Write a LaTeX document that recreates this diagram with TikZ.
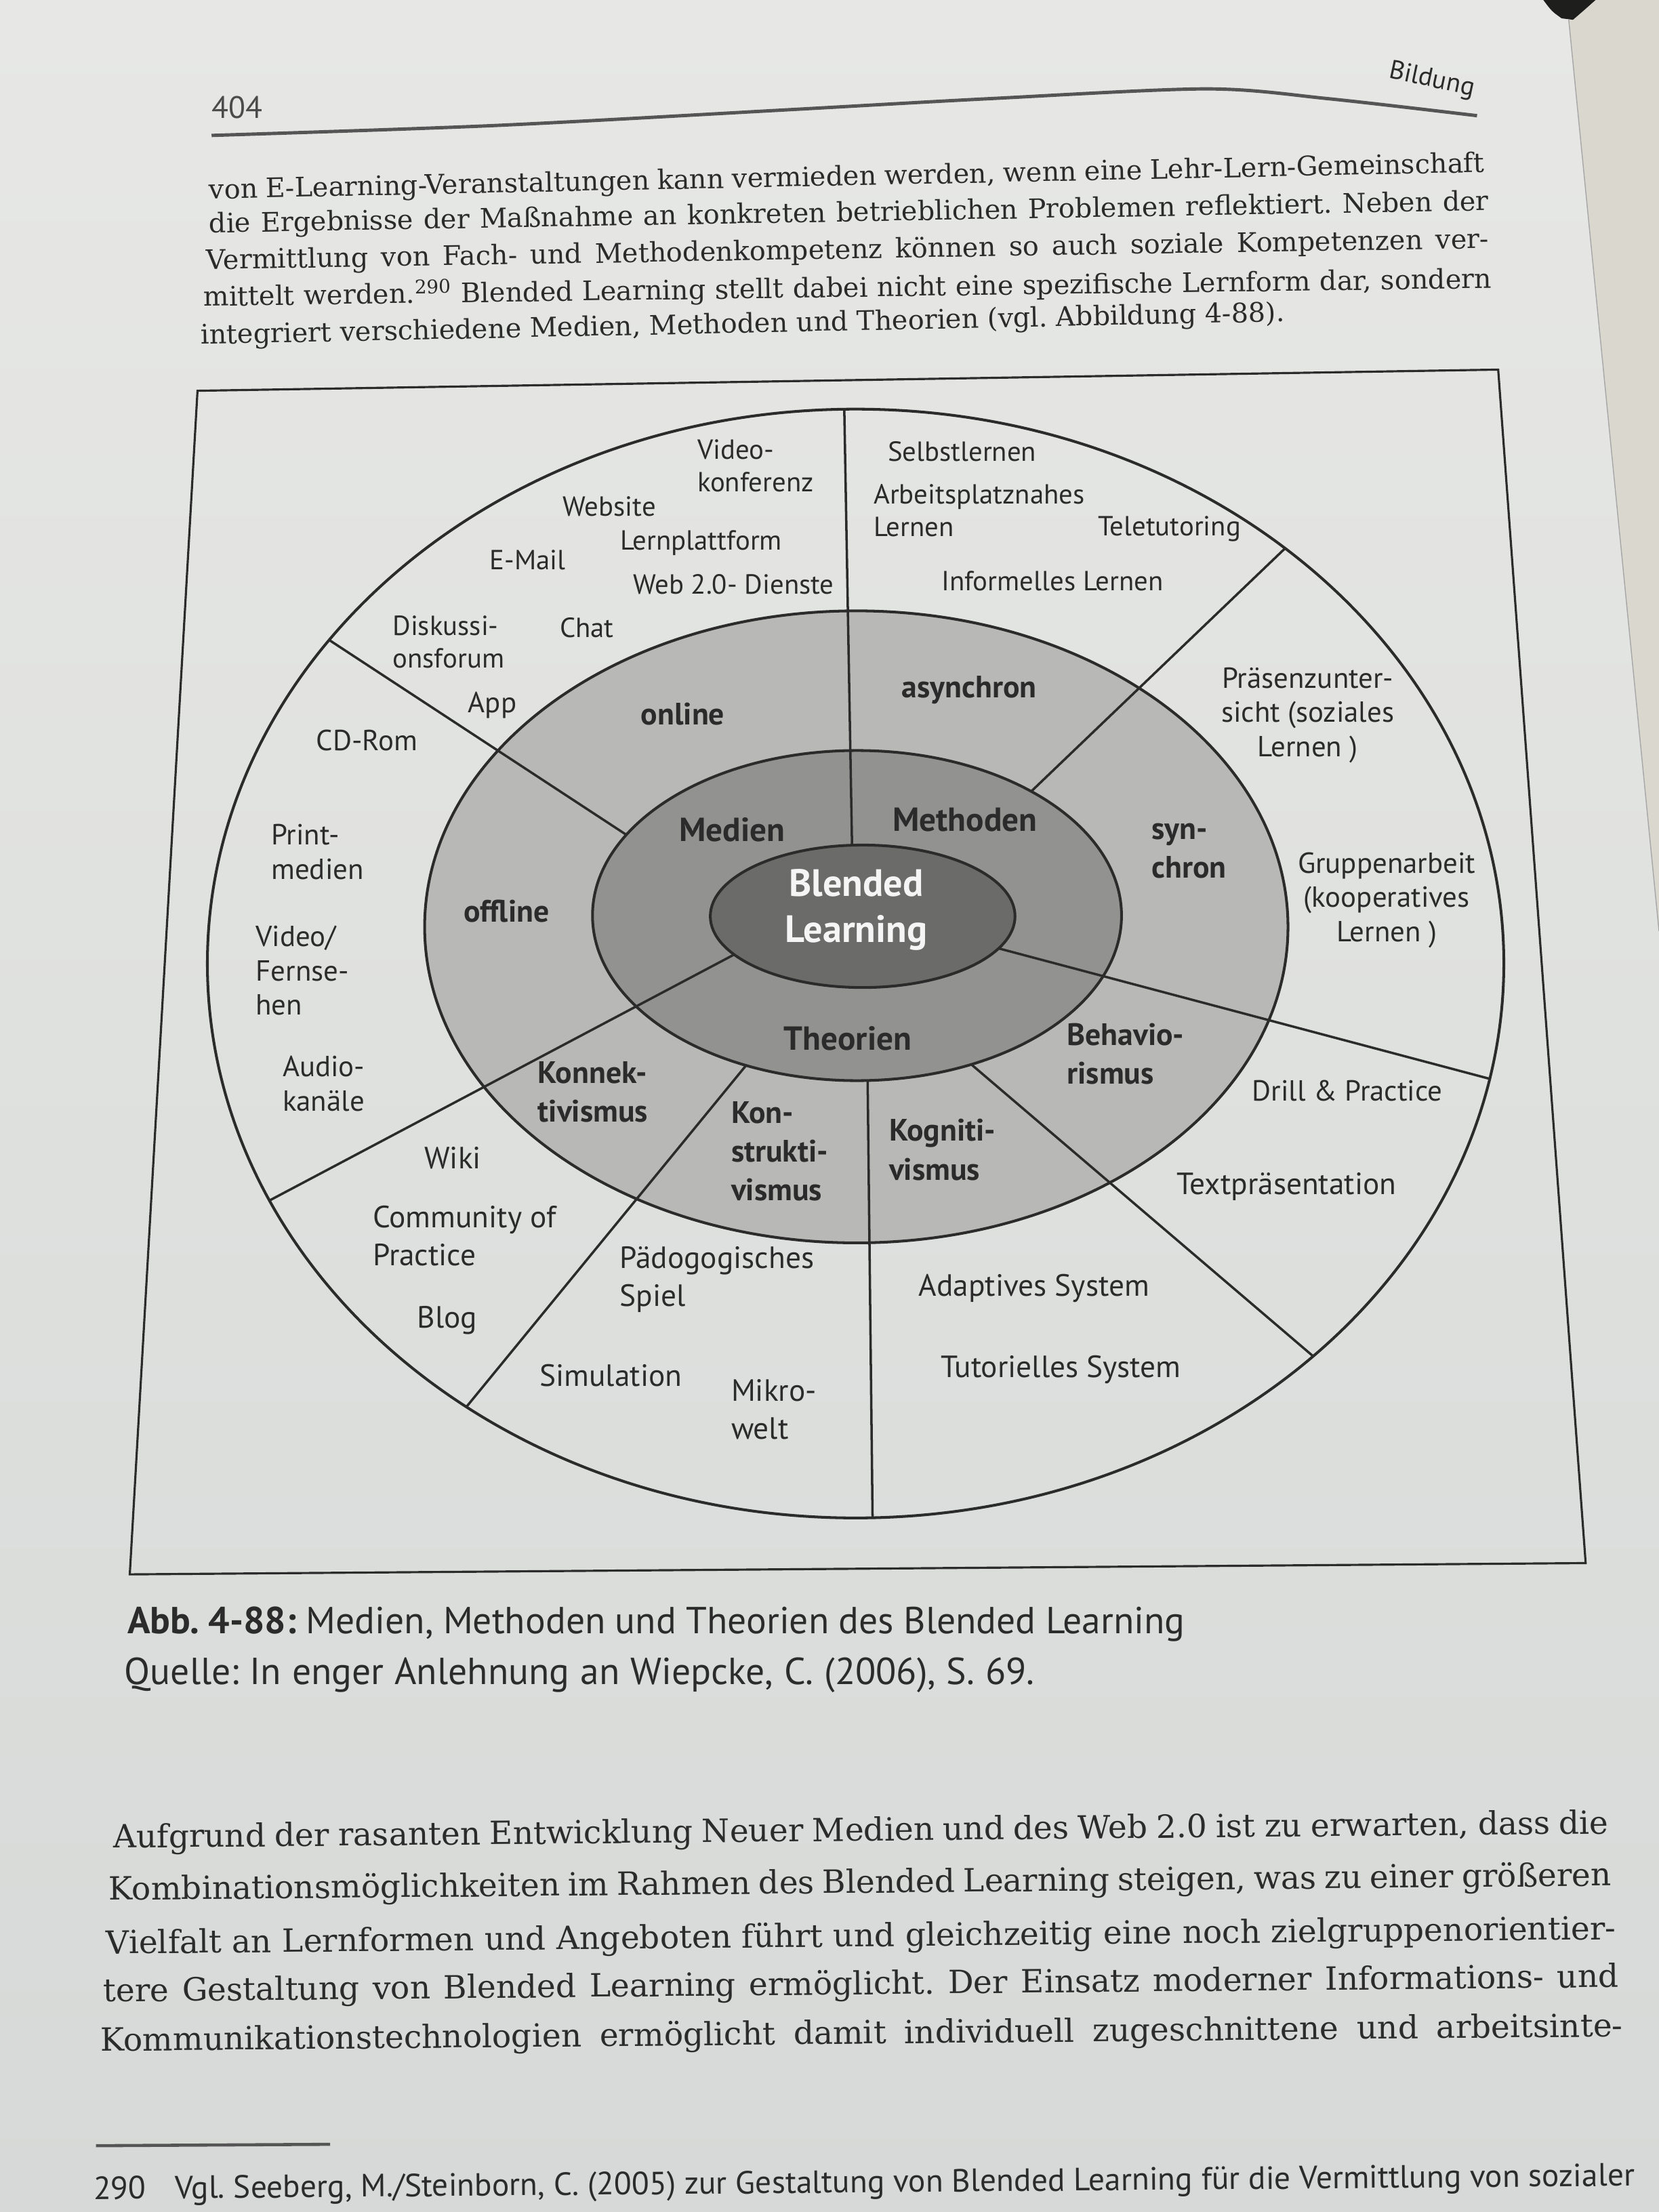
\documentclass[tikz,border=0pt]{standalone}
\usepackage{fontspec}
\setmainfont{DejaVu Serif}
\newfontfamily\figsans{PT Sans}
\usetikzlibrary{calc}
\frenchspacing

\definecolor{pagetop}{HTML}{E7E8E6}
\definecolor{pagebot}{HTML}{D6D9D7}
\definecolor{edgebeige}{HTML}{DAD7CF}
\definecolor{ink}{HTML}{2B2B2B}
\definecolor{ringlight}{HTML}{B8B9B7}
\definecolor{ringmid}{HTML}{929391}
\definecolor{ringdark}{HTML}{6B6C6A}
\definecolor{cover}{HTML}{1E1E1C}

\begin{document}
\begin{tikzpicture}[x=0.020816cm,y=-0.020816cm,
  labs/.style={font=\figsans\fontsize{11.6}{13.6}\selectfont,text=ink,inner sep=0pt,align=left},
  labm/.style={font=\figsans\fontsize{12.2}{14.4}\selectfont,text=ink,inner sep=0pt,align=left},
  labl/.style={font=\figsans\fontsize{12.9}{15.8}\selectfont,text=ink,inner sep=0pt,align=left},
  blab/.style={font=\figsans\bfseries\fontsize{13}{16.3}\selectfont,text=ink,inner sep=0pt,align=left},
  blabi/.style={font=\figsans\bfseries\fontsize{14}{16.6}\selectfont,text=ink,inner sep=0pt,align=left},
  bodytop/.style={font=\fontsize{11.3}{13}\selectfont,text=ink,inner sep=0pt,anchor=base west,rotate=#1},
  bodybot/.style={font=\fontsize{13.4}{16}\selectfont,text=ink,inner sep=0pt,anchor=base west,rotate=0.55},
  capt/.style={font=\figsans\fontsize{15.8}{18}\selectfont,text=ink,inner sep=0pt,anchor=base west},
  ring/.style={draw=ink,line width=1.15pt},
  divider/.style={draw=ink,line width=1pt},
]

% ---------- page ----------
\shade[top color=pagetop,bottom color=pagebot] (0,0) rectangle (1176,1568);
\useasboundingbox (0,0) rectangle (1176,1568);
\coordinate (edgeT) at (1112,14);
\coordinate (edgeB) at (1176,660);
\fill[edgebeige] (edgeT) -- (1131,0) -- (1176,0) -- (edgeB) -- cycle;
\draw[gray!70,line width=0.4pt] (edgeT) -- (edgeB);
\fill[cover] (1094,0) .. controls (1100,8) .. (1107,13) -- (1115,14) .. controls (1122,8) .. (1131,0) -- cycle;

% ---------- running head ----------
\node[font=\figsans\fontsize{13}{15}\selectfont,text=ink!85,inner sep=0pt,anchor=base west] (pagenum) at (150,84) {404};
\node[font=\figsans\fontsize{11}{13}\selectfont,text=ink,inner sep=0pt,rotate=-12] (runhead) at (1015,57) {Bildung};
\draw[line width=1.4pt,ink!80] plot[smooth] coordinates {(150,96) (350,89) (555,78) (700,70) (855,63) (942,70) (1047,82)};

% ---------- text above the figure ----------
\node[bodytop=1.2] (t1) at (148,141) {\makebox[535.4pt][s]{von E-Learning-Veranstaltungen kann vermieden werden, wenn eine Lehr-Lern-Gemeinschaft}};
\node[bodytop=1.0] (t2) at (148,165) {\makebox[537.2pt][s]{die Ergebnisse der Maßnahme an konkreten betrieblichen Problemen reflektiert. Neben der}};
\node[bodytop=0.95] (t3) at (146,191) {\makebox[538.4pt][s]{Vermittlung von Fach- und Methodenkompetenz können so auch soziale Kompetenzen ver-}};
\node[bodytop=0.8] (t4) at (144,217) {\makebox[540.8pt][s]{mittelt werden.\textsuperscript{290} Blended Learning stellt dabei nicht eine spezifische Lernform dar, sondern}};
\node[bodytop=1.2] (t5) at (142,244) {integriert verschiedene Medien, Methoden und Theorien (vgl. Abbildung 4-88).};

% ---------- figure frame ----------
\coordinate (fTL) at (140,277);
\coordinate (fTR) at (1062,262);
\coordinate (fBR) at (1124,1108);
\coordinate (fBL) at (92,1116);
\draw[ink,line width=0.9pt] (fTL) -- (fTR) -- (fBR) -- (fBL) -- cycle;

% ---------- ellipses ----------
\coordinate (cO) at (606.5,683);
\coordinate (cM) at (607,657);
\coordinate (cI) at (607.5,649);
\coordinate (cD) at (611.5,649.5);

\fill[ringlight] (cM) ellipse [x radius=306, y radius=224];
\fill[ringmid] (cI) ellipse [x radius=187.5, y radius=117];
\fill[ringdark] (cD) ellipse [x radius=108, y radius=50.5];

% end points of the sector dividers on the ellipses
\coordinate (v1a) at ($(cD)+({108*cos(-94)},{50.5*sin(-94)})$);
\coordinate (v1b) at ($(cO)+({459.5*cos(-91)},{393*sin(-91)})$);
\coordinate (v2a) at ($(cD)+({108*cos(147.5)},{50.5*sin(147.5)})$);
\coordinate (v2b) at ($(cO)+({459.5*cos(154.7)},{393*sin(154.7)})$);
\coordinate (v3a) at ($(cD)+({108*cos(26.8)},{50.5*sin(26.8)})$);
\coordinate (v3b) at ($(cO)+({459.5*cos(12)},{393*sin(12)})$);
\coordinate (v4a) at ($(cI)+({187.5*cos(-150.7)},{117*sin(-150.7)})$);
\coordinate (v4b) at ($(cO)+({459.5*cos(-144.3)},{393*sin(-144.3)})$);
\coordinate (v5a) at ($(cI)+({187.5*cos(-48.8)},{117*sin(-48.8)})$);
\coordinate (v5b) at ($(cO)+({459.5*cos(-48.5)},{393*sin(-48.5)})$);
\coordinate (v6a) at ($(cI)+({187.5*cos(114.8)},{117*sin(114.8)})$);
\coordinate (v6b) at ($(cO)+({459.5*cos(126.9)},{393*sin(126.9)})$);
\coordinate (v7a) at ($(cI)+({187.5*cos(87.7)},{117*sin(87.7)})$);
\coordinate (v7b) at ($(cO)+({459.5*cos(88.5)},{393*sin(88.5)})$);
\coordinate (v8a) at ($(cI)+({187.5*cos(64.4)},{117*sin(64.4)})$);
\coordinate (v8b) at ($(cO)+({459.5*cos(45.1)},{393*sin(45.1)})$);

\foreach \s in {1,...,8} \draw[divider] (v\s a) -- (v\s b);

\draw[ring] (cO) ellipse [x radius=459.5, y radius=393];
\draw[ring] (cM) ellipse [x radius=306, y radius=224];
\draw[ring] (cI) ellipse [x radius=187.5, y radius=117];
\draw[ring] (cD) ellipse [x radius=108, y radius=50.5];

% ---------- outer ring: media ----------
\node[labs,anchor=west] (vidkonf) at (494,330) {Video-\\konferenz};
\node[labs] (website) at (432,359) {Website};
\node[labs] (email) at (374,397) {E-Mail};
\node[labs] (lernpl) at (497,385) {Lernplattform};
\node[labs] (web20) at (520,414) {Web 2.0- Dienste};
\node[labs,anchor=west] (forum) at (278,455) {Diskussi-\\onsforum};
\node[labs] (chat) at (416,445) {Chat};
\node[labm] (app) at (349,500) {App};
\node[labm] (cdrom) at (260,525) {CD-Rom};
\node[labm,anchor=west] (print) at (192,604) {Print-\\medien};
\node[labm,anchor=west] (tv) at (181,688) {Video/\\Fernse-\\hen};
\node[labm,anchor=west] (audio) at (200,768) {Audio-\\kanäle};

% ---------- outer ring: methods ----------
\node[labs] (selbst) at (682,320) {Selbstlernen};
\node[labs,anchor=west] (arbeit) at (619,362) {Arbeitsplatznahes\\Lernen};
\node[labs] (teletut) at (829,375) {Teletutoring};
\node[labs] (informell) at (746,412) {Informelles Lernen};
\node[labm,align=center] (praesenz) at (927,507) {Präsenzunter-\\sicht (soziales\\Lernen )};
\node[labm,align=center] (gruppe) at (983,638) {Gruppenarbeit\\(kooperatives\\Lernen )};

% ---------- outer ring: theories ----------
\node[labm] (drill) at (955,773) {Drill \& Practice};
\node[labl] (textpr) at (912,841) {Textpräsentation};
\node[labl] (adaptiv) at (733,913) {Adaptives System};
\node[labl] (tutoriell) at (752,971) {Tutorielles System};
\node[labl] (wiki) at (321,821) {Wiki};
\node[labl,anchor=west] (cop) at (264,876) {Community of\\Practice};
\node[labl] (blog) at (317,936) {Blog};
\node[labl,anchor=west] (spiel) at (439,907) {Pädogogisches\\Spiel};
\node[labl] (simul) at (433,975) {Simulation};
\node[labl,anchor=west] (mikro) at (518,999) {Mikro-\\welt};

% ---------- middle and inner rings ----------
\node[blab] (online) at (484,506) {online};
\node[blab] (offline) at (359,646) {offline};
\node[blab] (async) at (687,489) {asynchron};
\node[blab,anchor=west] (sync) at (816,603) {syn-\\chron};
\node[blab,anchor=west] (behav) at (756,747) {Behavio-\\rismus};
\node[blab,anchor=west] (konnekt) at (381,774) {Konnek-\\tivismus};
\node[blab,anchor=west] (konstr) at (518,816) {Kon-\\strukti-\\vismus};
\node[blab,anchor=west] (kognit) at (630,815) {Kogniti-\\vismus};
\node[blabi] (medien) at (519,588) {Medien};
\node[blabi] (methoden) at (684,581) {Methoden};
\node[blabi] (theorien) at (601,736) {Theorien};
\node[font=\figsans\bfseries\fontsize{16}{19.5}\selectfont,text=white!92!gray,align=center,inner sep=0pt] (core) at (607,645) {Blended\\Learning};

% ---------- caption ----------
\node[capt] (cap1) at (90,1158) {\makebox[444pt][s]{\textbf{Abb. 4-88:}\ Medien, Methoden und Theorien des Blended Learning}};
\node[capt] (cap2) at (88,1194) {\makebox[382pt][s]{Quelle: In enger Anlehnung an Wiepcke, C. (2006), S. 69.}};

% ---------- text below the figure ----------
\node[bodybot] (b1) at (80,1310) {\makebox[627.8pt][s]{Aufgrund der rasanten Entwicklung Neuer Medien und des Web 2.0 ist zu erwarten, dass die}};
\node[bodybot] (b2) at (77,1347) {\makebox[630.8pt][s]{Kombinationsmöglichkeiten im Rahmen des Blended Learning steigen, was zu einer größeren}};
\node[bodybot] (b3) at (75,1385) {\makebox[633.8pt][s]{Vielfalt an Lernformen und Angeboten führt und gleichzeitig eine noch zielgruppenorientier-}};
\node[bodybot] (b4) at (73,1419) {\makebox[636.1pt][s]{tere Gestaltung von Blended Learning ermöglicht. Der Einsatz moderner Informations- und}};
\node[bodybot] (b5) at (71,1454) {\makebox[639.1pt][s]{Kommunikationstechnologien ermöglicht damit individuell zugeschnittene und arbeitsinte-}};

% ---------- footnote ----------
\coordinate (fnl) at (68,1521);
\coordinate (fnr) at (234,1520);
\draw[ink!80,line width=1.3pt] (fnl) -- (fnr);
\node[font=\figsans\fontsize{13.5}{15}\selectfont,text=ink,inner sep=0pt,anchor=base west,rotate=0.5] (fn) at (66,1559) {\makebox[647pt][s]{290\hspace{0.9em}Vgl. Seeberg, M./Steinborn, C. (2005) zur Gestaltung von Blended Learning für die Vermittlung von sozialer}};

\end{tikzpicture}
\end{document}
